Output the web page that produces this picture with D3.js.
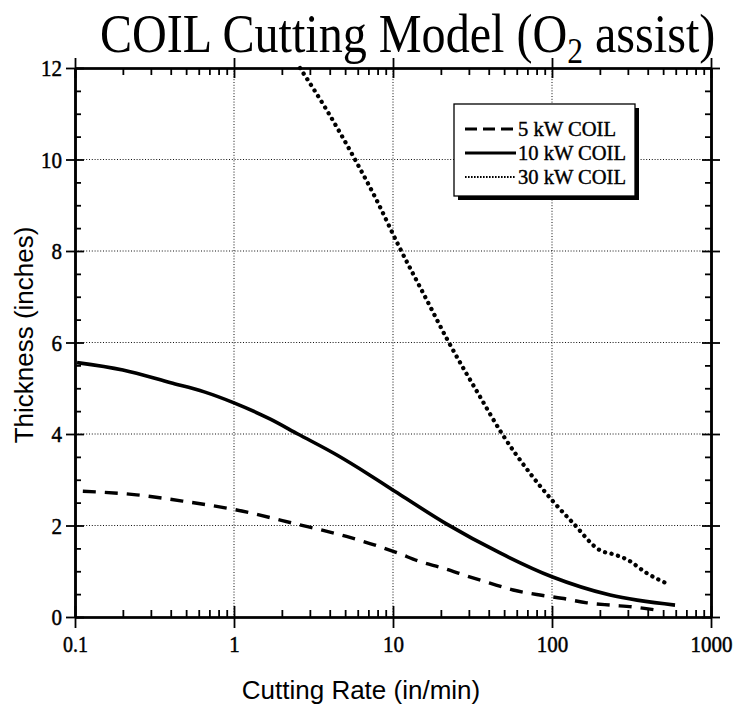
<!DOCTYPE html>
<html>
<head>
<meta charset="utf-8">
<script src="https://cdn.jsdelivr.net/npm/d3@7"></script>
<style>
  body { margin: 0; background: #fff; }
  svg { display: block; }
</style>
</head>
<body>
<svg id="chart" width="744" height="706"></svg>
<script>
// values (cutting rate in in/min, thickness in inches)
var rate5 = [0.112, 0.244, 0.505, 1, 2.48, 5.1, 10.7, 14.8, 20.6, 29, 40.7, 57, 84, 115, 166, 232, 324, 454];
var thick5 = [2.75, 2.67, 2.52, 2.35, 2.03, 1.76, 1.40, 1.21, 1.07, 0.90, 0.74, 0.59, 0.48, 0.41, 0.31, 0.26, 0.22, 0.15];

var rate10 = [0.103, 0.2, 0.4, 0.65, 1, 1.68, 2.52, 4.44, 7.16, 10.7, 21.8, 47.1, 100, 232, 594];
var thick10 = [5.56, 5.40, 5.12, 4.92, 4.68, 4.33, 4.0, 3.54, 3.10, 2.71, 2.03, 1.40, 0.88, 0.48, 0.26];

var rate30 = [2.6, 3.83, 5.77, 7.89, 10.8, 16.3, 22.3, 35.2, 48.2, 72.8, 102, 136, 200, 250, 295, 394, 552];
var thick30 = [12.0, 11.08, 10.0, 9.11, 8.13, 6.93, 6.02, 4.82, 4.02, 3.14, 2.52, 2.05, 1.46, 1.36, 1.26, 0.96, 0.70];

var xMajor = [0.1, 1, 10, 100, 1000];
var yMajor = [0, 2, 4, 6, 8, 10, 12];
var legendNames = ["5 kW COIL", "10 kW COIL", "30 kW COIL"];

var svg = d3.select("#chart");

var x = d3.scaleLog().domain([0.1, 1000]).range([75, 711]);
var y = d3.scaleLinear().domain([0, 12]).range([617, 68]);

// minor ticks: 2..9 in each decade, every 0.5 inch
var xMinor = [];
for (var p = -1; p < 3; p++) {
    for (var k = 2; k <= 9; k++) xMinor.push(k * Math.pow(10, p));
}
var yMinor = [];
for (var v = 0.5; v < 12; v += 0.5) {
    if (v % 2 != 0) yMinor.push(v);
}

var serif = "'Liberation Serif', 'Times New Roman', serif";
var sans = "'Liberation Sans', Arial, sans-serif";

// title (a condensed Times look)
var title = svg.append("text")
    .attr("transform", "translate(100,52) scale(0.875,1)")
    .style("font-family", serif)
    .style("font-size", "55px")
    .attr("fill", "#000");
title.append("tspan").text("COIL Cutting Model (O");
title.append("tspan").attr("dy", 11).style("font-size", "36px").text("2");
title.append("tspan").attr("dy", -11).text(" assist)");

// grid
var grid = svg.append("g");
grid.selectAll("line.gx")
    .data([1, 10, 100])
    .enter()
    .append("line")
    .attr("x1", function (d) { return x(d); })
    .attr("x2", function (d) { return x(d); })
    .attr("y1", y(12))
    .attr("y2", y(0));
grid.selectAll("line.gy")
    .data([2, 4, 6, 8, 10])
    .enter()
    .append("line")
    .attr("y1", function (d) { return y(d); })
    .attr("y2", function (d) { return y(d); })
    .attr("x1", x(0.1))
    .attr("x2", x(1000));
grid.selectAll("line")
    .attr("stroke", "#111")
    .attr("stroke-width", 1)
    .attr("stroke-dasharray", "1,1.8");

function fmtLen(s) {
    var n = 0;
    for (var i = 0; i < s.length; i++) n += (s[i] == ".") ? 4 : 10.5;
    return n;
}

function styleAxis(g) {
    g.select(".domain").attr("stroke-width", 2.2);
    g.selectAll(".tick line").attr("stroke-width", 1.8);
    g.selectAll("text")
        .style("font-family", serif)
        .style("font-size", "24px")
        .attr("fill", "#000")
        .attr("stroke", "#000")
        .attr("stroke-width", 0.5)
        .attr("textLength", function () { return fmtLen(this.textContent); })
        .attr("lengthAdjust", "spacingAndGlyphs");
}

// bottom axis
svg.append("g").attr("transform", "translate(0,617)")
    .call(d3.axisBottom(x).tickValues(xMajor).tickSize(11).tickSizeOuter(0).tickPadding(7)
        .tickFormat(function (d) { return d == 0.1 ? "0.1" : String(d); }))
    .call(styleAxis);
svg.append("g").attr("transform", "translate(0,617)")
    .call(d3.axisTop(x).tickValues(xMajor).tickSize(11).tickSizeOuter(0).tickFormat(""))
    .call(styleAxis);
svg.append("g").attr("transform", "translate(0,617)")
    .call(d3.axisTop(x).tickValues(xMinor).tickSize(7).tickSizeOuter(0).tickFormat(""))
    .call(styleAxis);

// top axis
svg.append("g").attr("transform", "translate(0,68)")
    .call(d3.axisTop(x).tickValues(xMajor).tickSize(10).tickSizeOuter(0).tickFormat(""))
    .call(styleAxis);
svg.append("g").attr("transform", "translate(0,68)")
    .call(d3.axisBottom(x).tickValues(xMajor).tickSize(10).tickSizeOuter(0).tickFormat(""))
    .call(styleAxis);
svg.append("g").attr("transform", "translate(0,68)")
    .call(d3.axisBottom(x).tickValues(xMinor).tickSize(7).tickSizeOuter(0).tickFormat(""))
    .call(styleAxis);

// left axis
svg.append("g").attr("transform", "translate(75,0)")
    .call(d3.axisLeft(y).tickValues(yMajor).tickSize(9).tickSizeOuter(0).tickPadding(4).tickFormat(d3.format("d")))
    .call(styleAxis);
svg.append("g").attr("transform", "translate(75,0)")
    .call(d3.axisRight(y).tickValues(yMajor).tickSize(9).tickSizeOuter(0).tickFormat(""))
    .call(styleAxis);
svg.append("g").attr("transform", "translate(75,0)")
    .call(d3.axisRight(y).tickValues(yMinor).tickSize(6).tickSizeOuter(0).tickFormat(""))
    .call(styleAxis);

// right axis
svg.append("g").attr("transform", "translate(711,0)")
    .call(d3.axisRight(y).tickValues(yMajor).tickSize(9).tickSizeOuter(0).tickFormat(""))
    .call(styleAxis);
svg.append("g").attr("transform", "translate(711,0)")
    .call(d3.axisLeft(y).tickValues(yMajor).tickSize(9).tickSizeOuter(0).tickFormat(""))
    .call(styleAxis);
svg.append("g").attr("transform", "translate(711,0)")
    .call(d3.axisLeft(y).tickValues(yMinor).tickSize(6).tickSizeOuter(0).tickFormat(""))
    .call(styleAxis);

// axis titles
svg.append("text")
    .attr("x", 361)
    .attr("y", 699)
    .attr("text-anchor", "middle")
    .style("font-family", sans)
    .style("font-size", "26px")
    .text("Cutting Rate (in/min)");
svg.append("text")
    .attr("transform", "translate(33,335) rotate(-90)")
    .attr("text-anchor", "middle")
    .style("font-family", sans)
    .style("font-size", "26px")
    .text("Thickness (inches)");

// curves
var line = d3.line()
    .x(function (d) { return x(d[0]); })
    .y(function (d) { return y(d[1]); })
    .curve(d3.curveMonotoneX);

function pairs(a, b) {
    return a.map(function (v, i) { return [v, b[i]]; });
}

svg.append("path")
    .datum(pairs(rate5, thick5))
    .attr("d", line)
    .attr("fill", "none")
    .attr("stroke", "#000")
    .attr("stroke-width", 3.4)
    .attr("stroke-dasharray", "13,9");
svg.append("path")
    .datum(pairs(rate10, thick10))
    .attr("d", line)
    .attr("fill", "none")
    .attr("stroke", "#000")
    .attr("stroke-width", 3.6);
svg.append("path")
    .datum(pairs(rate30, thick30))
    .attr("d", line)
    .attr("fill", "none")
    .attr("stroke", "#000")
    .attr("stroke-width", 4.3)
    .attr("stroke-linecap", "round")
    .attr("stroke-dasharray", "0.1,6.6");

// legend
var lg = svg.append("g");
lg.append("rect")
    .attr("x", 458).attr("y", 108)
    .attr("width", 181).attr("height", 92)
    .attr("fill", "#000");
lg.append("rect")
    .attr("x", 454).attr("y", 104)
    .attr("width", 181).attr("height", 92)
    .attr("fill", "#fff")
    .attr("stroke", "#000")
    .attr("stroke-width", 1.3);

var legendY = [129, 153, 177];
var legendDash = ["12,6", null, "1.6,1.4"];
lg.selectAll("line.key")
    .data(legendNames)
    .enter()
    .append("line")
    .attr("x1", 465)
    .attr("x2", 516)
    .attr("y1", function (d, i) { return legendY[i]; })
    .attr("y2", function (d, i) { return legendY[i]; })
    .attr("stroke", "#000")
    .attr("stroke-width", function (d, i) { return i == 2 ? 2.2 : 3; })
    .attr("stroke-dasharray", function (d, i) { return legendDash[i]; });
lg.selectAll("text")
    .data(legendNames)
    .enter()
    .append("text")
    .attr("x", 518)
    .attr("y", function (d, i) { return legendY[i] + 7; })
    .style("font-family", serif)
    .style("font-size", "21px")
    .attr("stroke", "#000")
    .attr("stroke-width", 0.4)
    .attr("textLength", function (d) { return d.length == 9 ? 98 : 108; })
    .attr("lengthAdjust", "spacingAndGlyphs")
    .text(function (d) { return d; });
</script>
</body>
</html>
